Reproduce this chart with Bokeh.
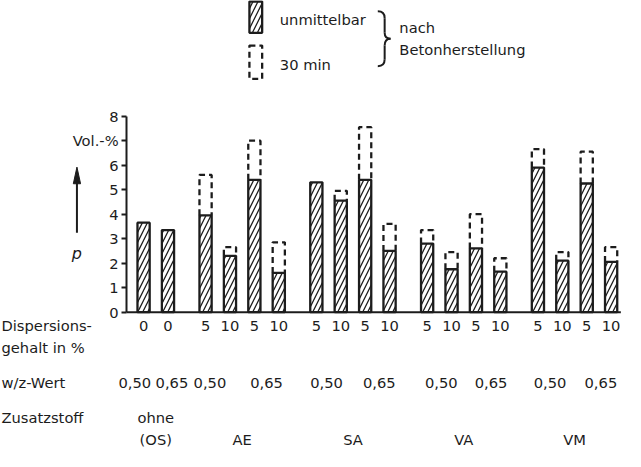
import math
from bokeh.plotting import figure
from bokeh.models import Range1d, LinearAxis, FixedTicker
from bokeh.core.properties import value
from bokeh.embed import file_html
from bokeh.resources import INLINE

# ---------------- data ----------------
group_labels = ["ohne\n(OS)", "AE", "SA", "VA", "VM"]
bars_per_group = [2, 4, 4, 4, 4]
dispersion = ["0", "0",
              "5", "10", "5", "10",
              "5", "10", "5", "10",
              "5", "10", "5", "10",
              "5", "10", "5", "10"]
wz_value = ["0,50", "0,65",
            "0,50", "0,50", "0,65", "0,65",
            "0,50", "0,50", "0,65", "0,65",
            "0,50", "0,50", "0,65", "0,65",
            "0,50", "0,50", "0,65", "0,65"]
# air void content p in Vol.-%
p_immediate = [3.65, 3.35,
               3.95, 2.3, 5.4, 1.6,
               5.3, 4.55, 5.4, 2.5,
               2.8, 1.75, 2.6, 1.65,
               5.9, 2.1, 5.25, 2.05]
p_30min = [float("nan"), float("nan"),
           5.6, 2.65, 7.0, 2.85,
           float("nan"), 4.95, 7.55, 3.6,
           3.35, 2.45, 4.0, 2.2,
           6.65, 2.45, 6.55, 2.65]
y_ticks = [0, 1, 2, 3, 4, 5, 6, 7, 8]
y_tick_overrides = {7: "Vol.-%"}

# ---------------- layout ----------------
W, H = 625, 451
S = 0.98                       # overall scale so that the drawing fits the window
PXU, PYU = 24.9, 25.0          # reference pixels per slot / per Vol.-%
X0, Y0 = 154.0, 328.0          # reference position of first bar centre / of zero line
def dx(xr):
    return (xr - X0) / PXU
def dy(yr):
    return (Y0 - yr) / PYU

INK = "#1c1c1c"
FONT = value("DejaVu Sans")
FS = "14.7px"

p = figure(width=W, height=H, output_backend="svg", toolbar_location=None,
           x_range=Range1d(dx(8), dx(8 + W / S)), y_range=Range1d(dy(10 + H / S), dy(10)),
           x_axis_location=None, y_axis_location=None,
           min_border=0, min_border_left=0, min_border_right=0,
           min_border_top=0, min_border_bottom=0)
p.outline_line_color = None
p.xgrid.visible = False
p.ygrid.visible = False
p.background_fill_color = "white"

# bar positions from group structure
gap = 1.54
xs = []
group_centres = []
start = 0.0
for n in bars_per_group:
    pos = [start + i for i in range(n)]
    xs.extend(pos)
    group_centres.append(sum(pos) / n)
    start = pos[-1] + gap

bw = 0.5
axis_x = dx(136.7)

# y axis
yax = LinearAxis(fixed_location=axis_x, ticker=FixedTicker(ticks=y_ticks),
                 major_label_overrides=y_tick_overrides, bounds=(0, 8))
yax.axis_line_width = 2
yax.axis_line_color = INK
yax.major_tick_out = 5
yax.major_tick_in = 0
yax.major_tick_line_width = 2
yax.major_tick_line_color = INK
yax.minor_tick_out = 0
yax.minor_tick_in = 0
yax.major_label_standoff = 3
yax.major_label_text_font = "DejaVu Sans"
yax.major_label_text_font_size = FS
yax.major_label_text_color = INK
p.add_layout(yax, "left")

# baseline
p.segment(x0=[axis_x], y0=[0], x1=[dx(641)], y1=[0], line_color=INK, line_width=2)

# bars measured immediately (hatched)
p.vbar(x=xs, top=p_immediate, bottom=0, width=bw, fill_color="white",
       line_color=INK, line_width=2.3, hatch_pattern="/", hatch_scale=10,
       hatch_weight=1.3, hatch_color=INK)

# dashed extension for 30 min
mx, my = [], []
for x, a, b in zip(xs, p_immediate, p_30min):
    if math.isnan(b):
        continue
    mx.append([x - bw / 2, x - bw / 2, x + bw / 2, x + bw / 2])
    my.append([a, b, b, a])
p.multi_line(xs=mx, ys=my, line_color=INK, line_width=2.3, line_dash="6 4")

# dispersion labels under bars
p.text(x=xs, y=[dy(342)] * len(xs), text=dispersion, text_font=FONT,
       text_font_size=FS, text_align="center", text_baseline="middle", text_color=INK)

# w/z labels
wz_x, wz_t = [], []
idx = 0
for n in bars_per_group:
    seen = []
    for i in range(n):
        if wz_value[idx + i] not in seen:
            seen.append(wz_value[idx + i])
    for w in seen:
        pos = [xs[idx + i] for i in range(n) if wz_value[idx + i] == w]
        wz_x.append(sum(pos) / len(pos))
        wz_t.append(w)
    idx += n
wz_off = [-9, 4, -8, 0, -2, 2, 2, 3, 0, 2]
p.text(x=[x + o / PXU for x, o in zip(wz_x, wz_off)], y=[dy(400)] * len(wz_x), text=wz_t,
       text_font=FONT, text_font_size=FS, text_align="center", text_baseline="middle",
       text_color=INK)

# group labels
gx, gy, gt = [], [], []
for c, lab in zip(group_centres, group_labels):
    lines = lab.split("\n")
    for k, line in enumerate(reversed(lines)):
        gx.append(c)
        gy.append(dy(458 - 22 * k))
        gt.append(line)
p.text(x=gx, y=gy, text=gt, text_font=FONT, text_font_size=FS, text_align="center",
       text_baseline="middle", text_color=INK)

# row titles
p.text(x=[dx(9)] * 4, y=[dy(342), dy(364), dy(400), dy(435)],
       text=["Dispersions-", "gehalt in %", "w/z-Wert", "Zusatzstoff"],
       text_font=FONT, text_font_size=FS, text_align="left", text_baseline="middle",
       text_color=INK)

# p arrow
p.segment(x0=[dx(86)], y0=[dy(247)], x1=[dx(86)], y1=[dy(192)], line_color=INK, line_width=2)
p.patch(x=[dx(86), dx(82.3), dx(89.7)], y=[dy(180), dy(197), dy(197)],
        fill_color=INK, line_color=INK, line_width=1)
p.text(x=[dx(86)], y=[dy(268)], text=["p"], text_font=FONT, text_font_size="16px",
       text_font_style="italic", text_align="center", text_baseline="middle", text_color=INK)

# legend
p.quad(left=[dx(262)], right=[dx(275)], top=[dy(11)], bottom=[dy(43)], fill_color="white",
       line_color=INK, line_width=2.3, hatch_pattern="/", hatch_scale=10,
       hatch_weight=1.3, hatch_color=INK)
p.quad(left=[dx(262)], right=[dx(275)], top=[dy(56)], bottom=[dy(90)], fill_color=None,
       line_color=INK, line_width=2.3, line_dash="6 4")
p.text(x=[dx(293), dx(293), dx(415), dx(415)],
       y=[dy(29), dy(75), dy(38), dy(60)],
       text=["unmittelbar", "30 min", "nach", "Betonherstellung"],
       text_font=FONT, text_font_size=FS, text_align="left", text_baseline="middle",
       text_color=INK)
# brace
p.quadratic(x0=[dx(393), dx(400), dx(406), dx(400)], y0=[dy(21), dy(43), dy(49), dy(70)],
            x1=[dx(400), dx(406), dx(400), dx(393)], y1=[dy(28), dy(49), dy(56), dy(77)],
            cx=[dx(400), dx(400), dx(400), dx(400)], cy=[dy(21), dy(49), dy(49), dy(77)],
            line_color=INK, line_width=2)
p.segment(x0=[dx(400), dx(400)], y0=[dy(28), dy(56)], x1=[dx(400), dx(400)], y1=[dy(43), dy(70)],
          line_color=INK, line_width=2)

open("out.html", "w").write(file_html(p, INLINE))
